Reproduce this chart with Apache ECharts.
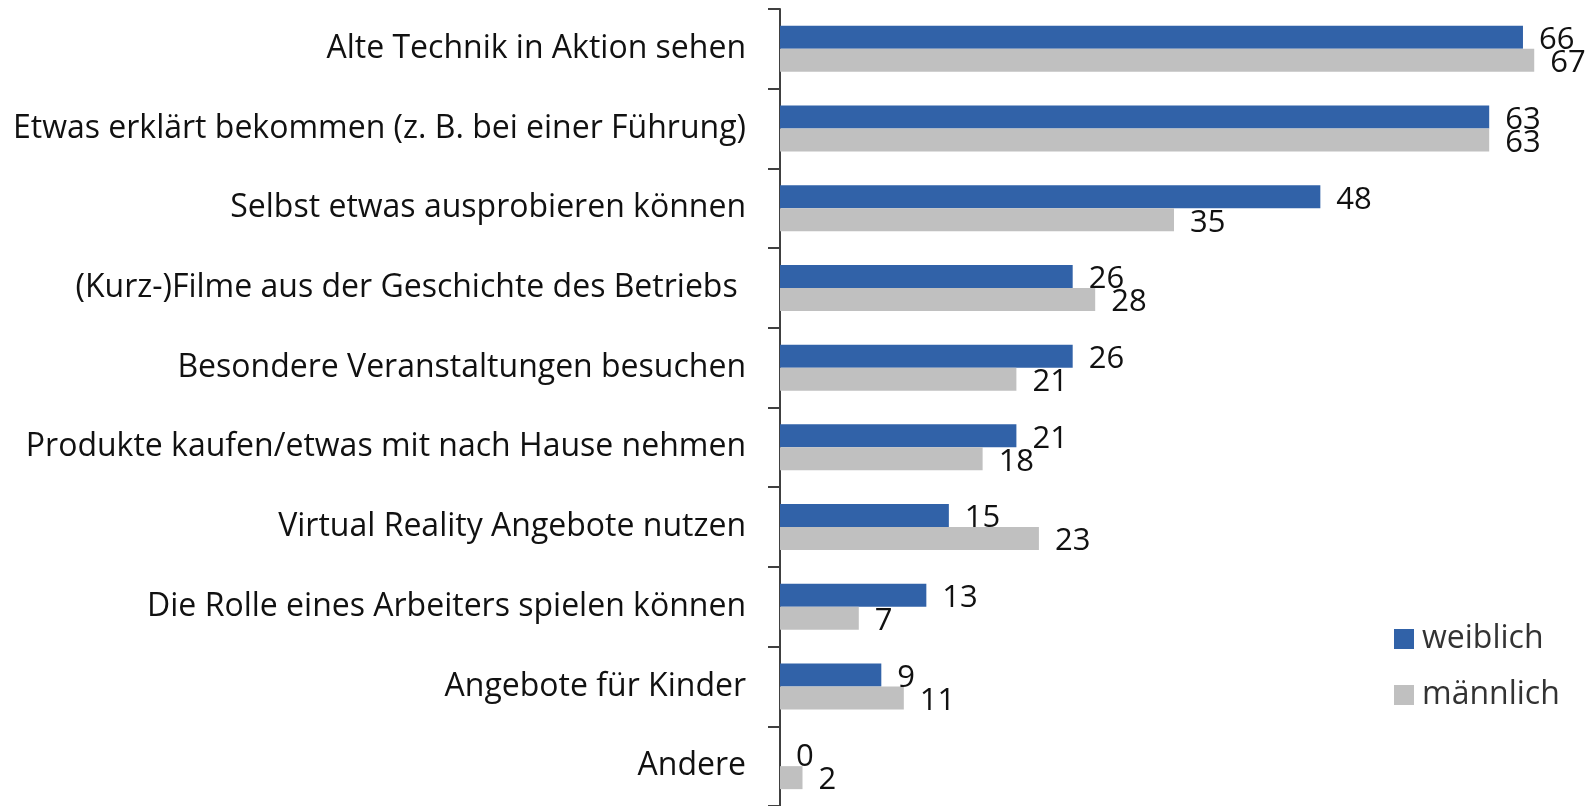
<!DOCTYPE html>
<html>
<head>
<meta charset="utf-8">
<script src="https://cdn.jsdelivr.net/npm/echarts@6/dist/echarts.min.js"></script>
<style>
  html, body { margin: 0; padding: 0; background: #fff; }
  #chart { width: 1593px; height: 806px; }
</style>
</head>
<body>
<div id="chart"></div>
<script>
// Was Besucher in einem Industriemuseum erleben möchten (Angaben in %)
const categories = [
  'Alte Technik in Aktion sehen',
  'Etwas erklärt bekommen (z. B. bei einer Führung)',
  'Selbst etwas ausprobieren können',
  '(Kurz-)Filme aus der Geschichte des Betriebs ',
  'Besondere Veranstaltungen besuchen',
  'Produkte kaufen/etwas mit nach Hause nehmen',
  'Virtual Reality Angebote nutzen',
  'Die Rolle eines Arbeiters spielen können',
  'Angebote für Kinder',
  'Andere'
];
const weiblich = [66, 63, 48, 26, 26, 21, 15, 13, 9, 0];
const maennlich = [67, 63, 35, 28, 21, 18, 23, 7, 11, 2];
const seriesNames = ['weiblich', 'männlich'];

const FONT = '"Open Sans", "Noto Sans", sans-serif';
const chart = echarts.init(document.getElementById('chart'), null, { renderer: 'canvas' });

const valueLabel = {
  show: true,
  position: 'right',
  distance: 16,
  offset: [0, 3],
  color: '#111',
  fontFamily: FONT,
  fontSize: 31
};

chart.setOption({
  animation: false,
  backgroundColor: '#fff',
  grid: { left: 780, top: 9, right: 25, height: 798, containLabel: false },
  legend: {
    orient: 'vertical',
    left: 1394,
    top: 623,
    padding: 0,
    itemWidth: 20,
    itemHeight: 20,
    itemGap: 24,
    icon: 'rect',
    textStyle: { fontFamily: FONT, fontSize: 32, color: '#333', padding: [0, 0, 0, 3] },
    data: seriesNames
  },
  xAxis: {
    type: 'value',
    min: 0,
    max: 70,
    show: false
  },
  yAxis: {
    type: 'category',
    inverse: true,
    data: categories,
    axisLine: { show: true, lineStyle: { color: '#404040', width: 2 } },
    axisTick: { show: true, length: 12, lineStyle: { color: '#404040', width: 2 } },
    axisLabel: { margin: 34, color: '#111', fontFamily: FONT, fontSize: 32 }
  },
  series: [
    {
      name: seriesNames[0],
      type: 'bar',
      data: weiblich,
      barWidth: 23,
      barGap: '0%',
      itemStyle: { color: '#3162a8' },
      label: valueLabel
    },
    {
      name: seriesNames[1],
      type: 'bar',
      data: maennlich,
      barWidth: 23,
      barGap: '0%',
      itemStyle: { color: '#c0c0c0' },
      label: valueLabel
    }
  ]
});
</script>
</body>
</html>
